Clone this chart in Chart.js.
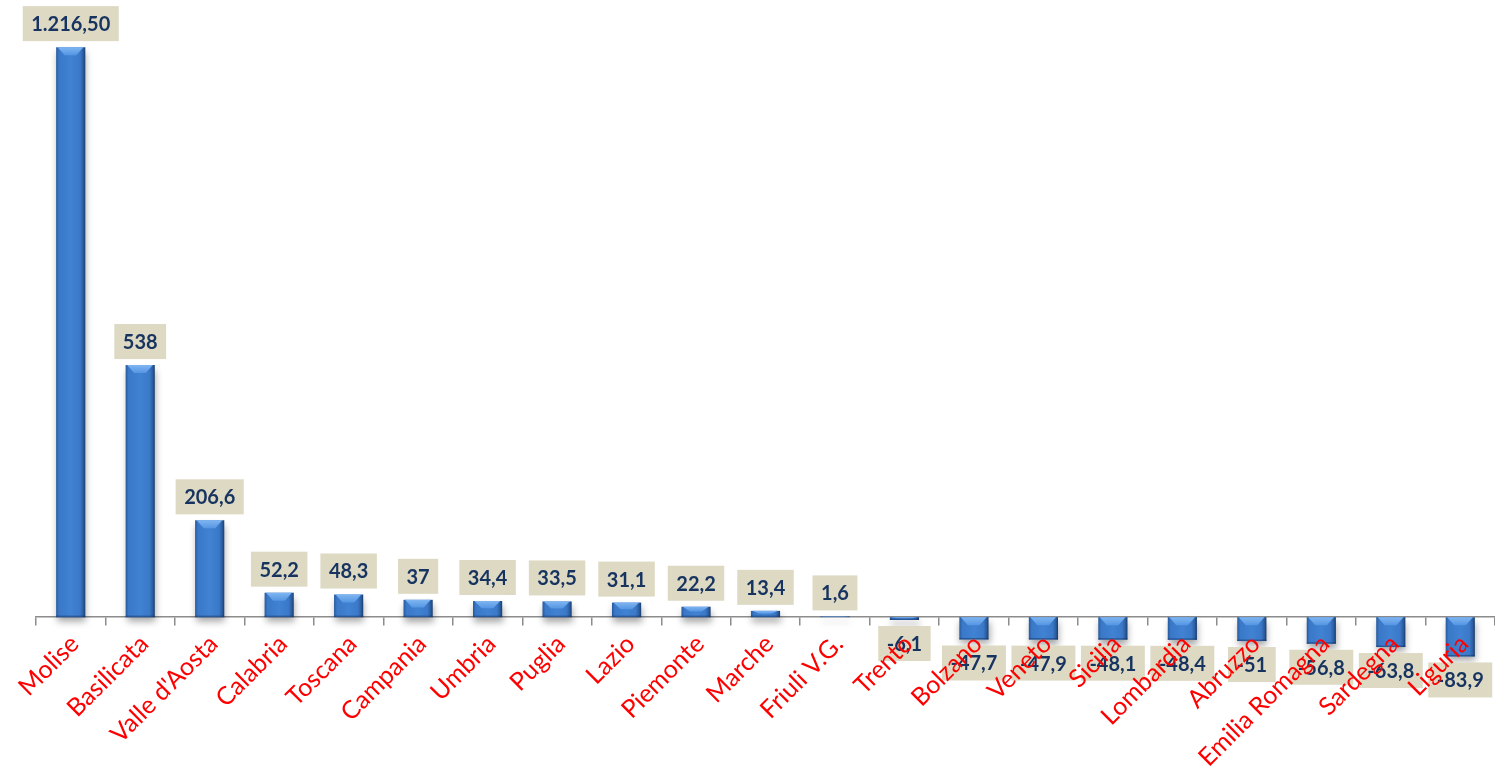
<!DOCTYPE html>
<html><head><meta charset="utf-8">
<script src="https://cdn.jsdelivr.net/npm/chart.js@4.4.0/dist/chart.umd.min.js"></script>
<style>html,body{margin:0;padding:0;background:#fff;overflow:hidden}</style>
</head><body>
<canvas id="c" width="1495" height="776"></canvas>
<script>
const categories = ['Molise','Basilicata',"Valle d'Aosta",'Calabria','Toscana','Campania','Umbria','Puglia','Lazio','Piemonte','Marche','Friuli V.G.','Trento','Bolzano','Veneto','Sicilia','Lombardia','Abruzzo','Emilia Romagna','Sardegna','Liguria'];
const values = [1216.5,538,206.6,52.2,48.3,37,34.4,33.5,31.1,22.2,13.4,1.6,-6.1,-47.7,-47.9,-48.1,-48.4,-51,-56.8,-63.8,-83.9];
const valueLabels = ['1.216,50','538','206,6','52,2','48,3','37','34,4','33,5','31,1','22,2','13,4','1,6','-6,1','-47,7','-47,9','-48,1','-48,4','-51','-56,8','-63,8','-83,9'];

const BAR_PCT = 0.42;

const shadowPlugin = {
  id:'shadow',
  beforeDatasetsDraw(chart){
    const c=chart.ctx; c.save();
    c.shadowColor='rgba(0,0,0,0.35)'; c.shadowBlur=7; c.shadowOffsetX=1; c.shadowOffsetY=5;
  },
  afterDatasetsDraw(chart){
    const c=chart.ctx; c.restore();
    const meta=chart.getDatasetMeta(0);
    meta.data.forEach((bar)=>{
      const w=bar.width, l=bar.x-w/2, r=bar.x+w/2;
      const top=Math.min(bar.y,bar.base), bot=Math.max(bar.y,bar.base);
      const h=bot-top;
      if(!isFinite(top)||!isFinite(bot)||!isFinite(w)||h<2) return;
      const d=Math.min(8,h*0.45), inset=Math.min(7,w*0.3);
      const g=c.createLinearGradient(0,top,0,top+d);
      g.addColorStop(0,'#7fb5f2'); g.addColorStop(1,'#5596e2');
      c.fillStyle=g;
      c.beginPath(); c.moveTo(l+1.5,top); c.lineTo(r-2,top); c.lineTo(r-2-inset,top+d); c.lineTo(l+1.5+inset,top+d); c.closePath(); c.fill();
      c.fillStyle='rgba(20,50,100,0.5)';
      c.fillRect(l,bot-1.5,w,1.5);
    });
    c.save();
    c.font='bold 20px Lato';
    c.textAlign='center'; c.textBaseline='middle';
    meta.data.forEach((bar,i)=>{
      if(!isFinite(bar.x)||!isFinite(bar.y)) return;
      const txt=valueLabels[i];
      const tw=c.measureText(txt).width;
      const bw=tw+17, bh=35;
      const by = values[i]<0 ? bar.y+6 : bar.y-6-bh;
      c.fillStyle='#ddd9c3';
      c.fillRect(bar.x-bw/2,by,bw,bh);
      c.fillStyle='#17335f';
      c.fillText(txt,bar.x,by+bh/2+1);
    });
    c.restore();
  }
};

new Chart(document.getElementById('c'),{
  type:'bar',
  data:{labels:categories,datasets:[{data:values,borderWidth:0,barPercentage:BAR_PCT,categoryPercentage:1,
    backgroundColor(ctx){
      const chart=ctx.chart, x=chart.scales && chart.scales.x;
      if(!x||ctx.type!=='data') return '#3a78c4';
      const cx=x.getPixelForValue(ctx.dataIndex), w=x.width/categories.length*BAR_PCT;
      if(!isFinite(cx)||!isFinite(w)||w<=0) return '#3a78c4';
      const g=chart.ctx.createLinearGradient(cx-w/2,0,cx+w/2,0);
      g.addColorStop(0,'#27599c'); g.addColorStop(0.1,'#3a78c8'); g.addColorStop(0.5,'#4182d2'); g.addColorStop(0.82,'#3b78c8'); g.addColorStop(0.93,'#2a5c9e'); g.addColorStop(1,'#193c6c');
      return g;
    }}]},
  options:{
    responsive:false, animation:false, devicePixelRatio:1,
    layout:{padding:{left:36,right:-8,top:8,bottom:112}},
    plugins:{legend:{display:false},tooltip:{enabled:false}},
    scales:{
      x:{position:{y:0}, offset:true,
        grid:{display:true,drawOnChartArea:false,drawTicks:true,tickLength:8,color:'#8c8c8c',lineWidth:1.5,offset:true},
        border:{display:true,color:'#8c8c8c',width:1.5},
        ticks:{z:1,color:'#ff0000',font:{family:'Lato',size:25},minRotation:45,maxRotation:45,autoSkip:false,padding:4,labelOffset:4}},
      y:{display:false,min:-100,max:1300}
    }
  },
  plugins:[shadowPlugin]
});
</script>
</body></html>
